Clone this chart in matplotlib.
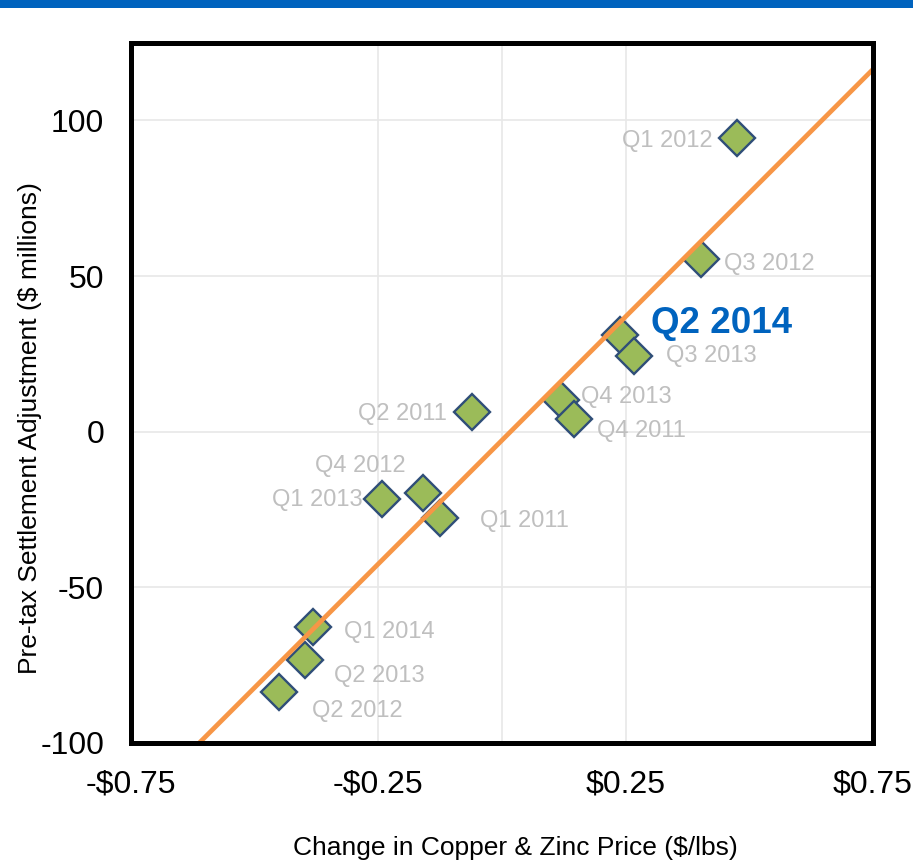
import numpy as np
import matplotlib
matplotlib.use("Agg")
import matplotlib.pyplot as plt
from matplotlib.patches import Rectangle

# ---- data ----
quarters = ["Q1 2012", "Q3 2012", "Q2 2014", "Q3 2013", "Q4 2013", "Q4 2011", "Q2 2011",
            "Q4 2012", "Q1 2013", "Q1 2011", "Q1 2014", "Q2 2013", "Q2 2012"]
price_change = [0.475, 0.403, 0.239, 0.268, 0.120, 0.146, -0.060,
                -0.160, -0.241, -0.124, -0.381, -0.397, -0.449]
adjustment = [94.2, 55.6, 30.9, 24.4, 10.3, 4.2, 6.4,
              -19.6, -21.5, -27.7, -62.7, -73.3, -83.6]
highlight = "Q2 2014"
x_ticks = [-0.75, -0.25, 0.25, 0.75]
x_ticklabels = ["-$0.75", "-$0.25", "$0.25", "$0.75"]
y_ticks = [-100, -50, 0, 50, 100]
y_ticklabels = ["-100", "-50", "0", "50", "100"]

# label offsets in pixels (dx, dy, ha)
offsets = {
    "Q1 2012": (-24, 0, "right"),
    "Q3 2012": (23, -2, "left"),
    "Q2 2014": (31, 15, "left"),
    "Q3 2013": (32, 3, "left"),
    "Q4 2013": (20, 6, "left"),
    "Q4 2011": (23, -9, "left"),
    "Q2 2011": (-25, 1, "right"),
    "Q4 2012": (-17, 30, "right"),
    "Q1 2013": (-20, 2, "right"),
    "Q1 2011": (40, 0, "left"),
    "Q1 2014": (31, -2, "left"),
    "Q2 2013": (29, -13, "left"),
    "Q2 2012": (33, -16, "left"),
}

plt.rcParams['font.family'] = ['Liberation Sans', 'DejaVu Sans']

W, H = 913, 861
fig = plt.figure(figsize=(W / 100, H / 100), dpi=100)
fig.patches.append(Rectangle((0, 1 - 8 / H), 1, 8 / H, transform=fig.transFigure,
                             facecolor="#0063BE", edgecolor="none", zorder=0))

ax = fig.add_axes([130.5 / W, (H - 743) / H, (873 - 130.5) / W, (743 - 42.5) / H])
ax.set_xlim(-0.75, 0.75)
ax.set_ylim(-100, 125)

# grid
for gx in [-0.25, 0, 0.25]:
    ax.axvline(gx, color="#E8E8E8", lw=1.2, zorder=1)
for gy in [-50, 0, 50, 100]:
    ax.axhline(gy, color="#E8E8E8", lw=1.2, zorder=1)

ax.set_xticks(x_ticks)
ax.set_xticklabels(x_ticklabels)
ax.set_yticks(y_ticks)
ax.set_yticklabels(y_ticklabels)
ax.tick_params(axis="both", length=0, labelsize=23, colors="black")
ax.tick_params(axis="x", pad=19)
ax.tick_params(axis="y", pad=19)

for s in ax.spines.values():
    s.set_linewidth(3.6)
    s.set_color("black")
    s.set_zorder(5)

# markers
ax.plot(price_change, adjustment, linestyle="none", marker="D", markersize=18,
        markerfacecolor="#9BBB59", markeredgecolor="#2F4E78", markeredgewidth=1.7,
        zorder=3)

# regression line
slope, intercept = np.polyfit(price_change, adjustment, 1)
xl = np.array([-0.75, 0.75])
ax.plot(xl, slope * xl + intercept, color="#F79646", lw=3.4, zorder=4,
        solid_capstyle="butt")

# labels
for q, x, y in zip(quarters, price_change, adjustment):
    dx, dy, ha = offsets[q]
    if q == highlight:
        ax.annotate(q, (x, y), xytext=(dx, dy - 3), textcoords="offset pixels",
                    ha=ha, va="center", fontsize=26.5, fontweight="bold",
                    color="#0063BE", zorder=6)
    else:
        ax.annotate(q, (x, y), xytext=(dx, dy - 3), textcoords="offset pixels",
                    ha=ha, va="center", fontsize=17, color="#BFBFBF", zorder=6)

fig.text(515 / W, 1 - 848 / H, "Change in Copper & Zinc Price ($/lbs)",
         ha="center", va="center", fontsize=19)
fig.text(30 / W, 1 - 428 / H, "Pre-tax Settlement Adjustment ($ millions)",
         ha="center", va="center", rotation=90, fontsize=19)

fig.savefig("out.png", dpi=100)
